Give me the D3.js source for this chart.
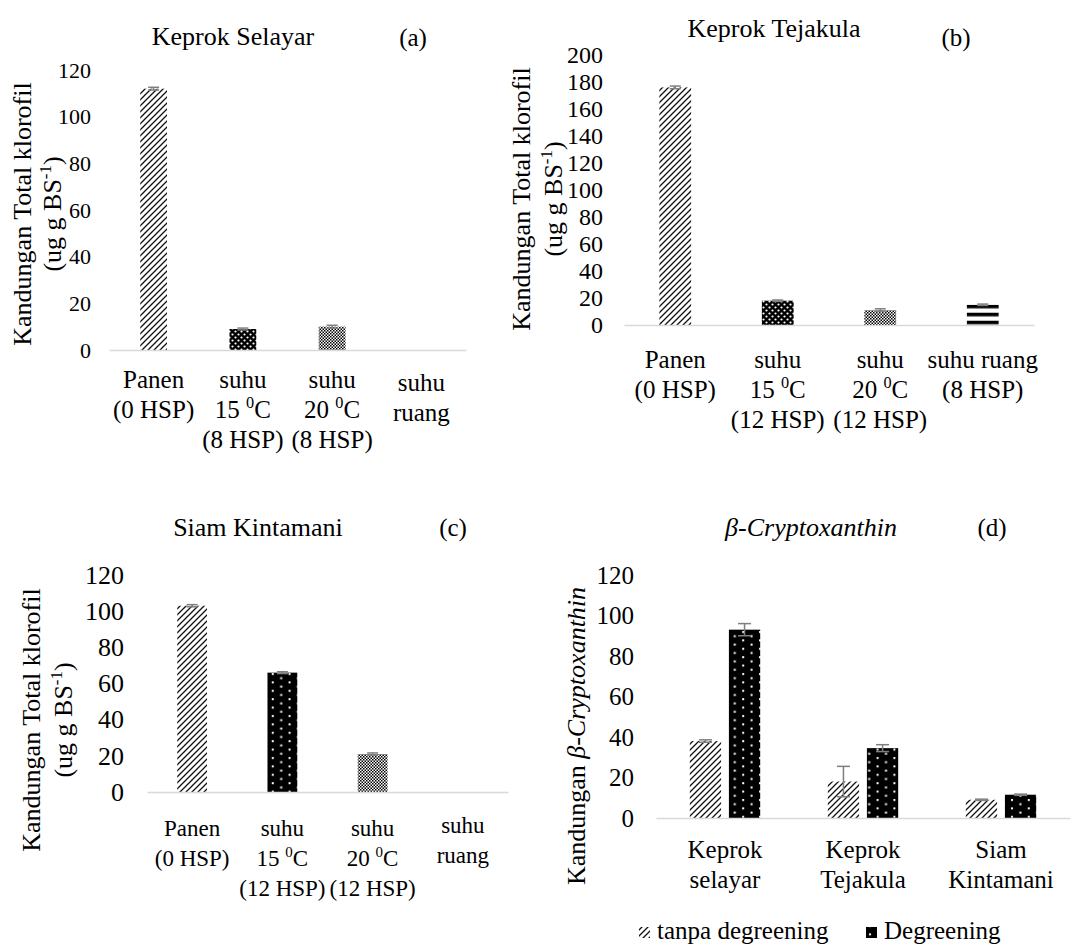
<!DOCTYPE html>
<html>
<head>
<meta charset="utf-8">
<script src="https://cdn.jsdelivr.net/npm/d3@7"></script>
<style>
  body { margin: 0; background: #fff; }
  svg { display: block; font-family: "Liberation Serif", "Times New Roman", "DejaVu Serif", serif; }
</style>
</head>
<body>
<svg id="chart" width="1088" height="946"></svg>
<script>
// ---- data ----
var treatmentsA = [["Panen", "(0 HSP)"], ["suhu", "15 {0}C", "(8 HSP)"], ["suhu", "20 {0}C", "(8 HSP)"], ["suhu", "ruang"]];
var klorofilA = [112, 9, 10, 0];
var errA = [0.6, 0.4, 0.6, 0];

var treatmentsB = [["Panen", "(0 HSP)"], ["suhu", "15 {0}C", "(12 HSP)"], ["suhu", "20 {0}C", "(12 HSP)"], ["suhu ruang", "(8 HSP)"]];
var klorofilB = [176, 18, 11, 15];
var errB = [1, 0.5, 1, 0.5];

var treatmentsC = [["Panen", "(0 HSP)"], ["suhu", "15 {0}C", "(12 HSP)"], ["suhu", "20 {0}C", "(12 HSP)"], ["suhu", "ruang"]];
var klorofilC = [103, 66, 21, 0];
var errC = [0.6, 0.5, 0.6, 0];

var varietasD = [["Keprok", "selayar"], ["Keprok", "Tejakula"], ["Siam", "Kintamani"]];
var seriesD = ["tanpa degreening", "Degreening"];
var tanpaD = [38, 18, 9];
var degreeningD = [93, 34.5, 11.5];
var errTanpaD = [0.6, 7.5, 0.3];
var errDegreeningD = [3, 1.7, 0.3];

var ticks120 = [0, 20, 40, 60, 80, 100, 120];
var ticks200 = [0, 20, 40, 60, 80, 100, 120, 140, 160, 180, 200];

var svg = d3.select("#chart");
var defs = svg.append("defs");

// ---- fill patterns (Excel style) ----
function pattern(id, w, h) {
  return defs.append("pattern").attr("id", id)
    .attr("patternUnits", "userSpaceOnUse")
    .attr("width", w).attr("height", h);
}
var diag = pattern("diag", 6, 6);
diag.append("rect").attr("width", 6).attr("height", 6).attr("fill", "#fff");
diag.append("path").attr("d", "M0,6 L6,0 M-1,1 L1,-1 M5,7 L7,5")
  .attr("stroke", "#111").attr("stroke-width", 1.3);

var dense = pattern("dotsDense", 6, 6);
dense.append("rect").attr("width", 6).attr("height", 6).attr("fill", "#000");
dense.append("circle").attr("cx", 1.5).attr("cy", 1.5).attr("r", 1.1).attr("fill", "#fff");
dense.append("circle").attr("cx", 4.5).attr("cy", 4.5).attr("r", 1.1).attr("fill", "#fff");

var sparse = pattern("dotsSparse", 16.8, 8.4);
sparse.append("rect").attr("width", 16.8).attr("height", 8.4).attr("fill", "#000");
sparse.append("rect").attr("x", 3).attr("y", 1).attr("width", 2).attr("height", 2).attr("fill", "#fff");
sparse.append("rect").attr("x", 11.4).attr("y", 5.2).attr("width", 2).attr("height", 2).attr("fill", "#fff");

var checker = pattern("checker", 3, 3);
checker.append("rect").attr("width", 3).attr("height", 3).attr("fill", "#fff");
checker.append("rect").attr("width", 1.5).attr("height", 1.5).attr("fill", "#000");
checker.append("rect").attr("x", 1.5).attr("y", 1.5).attr("width", 1.5).attr("height", 1.5).attr("fill", "#000");

var hlines = pattern("hlines", 8, 8);
hlines.append("rect").attr("width", 8).attr("height", 8).attr("fill", "#fff");
hlines.append("rect").attr("width", 8).attr("height", 3.6).attr("fill", "#000");

// text with {sup} parts
function richText(sel, str, size) {
  var shift = Math.round(size * 0.38);
  var up = false;
  str.split(/(\{[^}]*\})/).forEach(function(p) {
    if (!p) return;
    if (p[0] === "{") {
      sel.append("tspan").attr("dy", -shift).attr("font-size", size * 0.65).text(p.slice(1, -1));
      up = true;
    } else {
      sel.append("tspan").attr("dy", up ? shift : null).text(p);
      up = false;
    }
  });
}

function styleYAxis(s, size) {
  s.select(".domain").remove();
  s.attr("font-family", null).attr("font-size", size);
  s.selectAll("text").attr("fill", "#000");
}

function errorBars(g, xs, ys, vals, errs, cap) {
  vals.forEach(function(v, i) {
    if (!errs[i]) return;
    var cx = xs(i), y1 = ys(v + errs[i]), y2 = ys(Math.max(0, v - errs[i]));
    var e = g.append("g").attr("stroke", "#7f7f7f").attr("stroke-width", 1.5);
    e.append("line").attr("x1", cx).attr("x2", cx).attr("y1", y1).attr("y2", y2);
    e.append("line").attr("x1", cx - cap / 2).attr("x2", cx + cap / 2).attr("y1", y1).attr("y2", y1);
    e.append("line").attr("x1", cx - cap / 2).attr("x2", cx + cap / 2).attr("y1", y2).attr("y2", y2);
  });
}

function drawPanel(cfg) {
  var g = svg.append("g");
  var x = d3.scaleBand().domain(d3.range(cfg.values.length))
    .range([cfg.x0, cfg.x1]).paddingInner(cfg.pad).paddingOuter(cfg.pad / 2);
  var y = d3.scaleLinear().domain([0, cfg.max]).range([cfg.y0, cfg.yTop]);

  g.append("g").attr("transform", "translate(" + cfg.tickX + ",0)")
    .call(d3.axisLeft(y).tickValues(cfg.ticks).tickSize(0).tickPadding(0))
    .call(styleYAxis, cfg.tickFont);

  if (cfg.hlineBar != null) d3.select("#hlines").attr("y", y(cfg.values[cfg.hlineBar]));

  g.selectAll("rect.bar").data(cfg.values).enter().append("rect")
    .attr("class", "bar")
    .attr("x", function(d, i) { return x(i); })
    .attr("width", x.bandwidth())
    .attr("y", function(d) { return y(d); })
    .attr("height", function(d) { return y(0) - y(d); })
    .attr("fill", function(d, i) { return cfg.fills[i]; });

  errorBars(g, function(i) { return x(i) + x.bandwidth() / 2; }, y, cfg.values, cfg.errs, 11);

  g.append("g").attr("transform", "translate(0," + cfg.y0 + ")")
    .call(d3.axisBottom(x).tickSize(0).tickFormat(""))
    .call(function(s) { s.select(".domain").attr("stroke", "#d9d9d9").attr("stroke-width", 1.5); });

  cfg.labels.forEach(function(lines, i) {
    lines.forEach(function(line, j) {
      var t = g.append("text").attr("x", x(i) + x.bandwidth() / 2)
        .attr("y", cfg.labelY + (cfg.labelShift ? cfg.labelShift[i] : 0) + j * 30)
        .attr("text-anchor", "middle").attr("font-size", cfg.labelFont);
      richText(t, line, cfg.labelFont);
    });
  });

  g.append("text").attr("x", cfg.titleX).attr("y", cfg.titleY)
    .attr("text-anchor", "middle").attr("font-size", 26).text(cfg.title);
  g.append("text").attr("x", cfg.tagX).attr("y", cfg.tagY)
    .attr("text-anchor", "middle").attr("font-size", 25).text(cfg.tag);

  g.append("text").attr("transform", "translate(" + cfg.yt1X + "," + cfg.ytY + ") rotate(-90)")
    .attr("text-anchor", "middle").attr("dy", "0.35em").attr("font-size", 26)
    .text("Kandungan  Total klorofil");
  var yt2 = g.append("text").attr("transform", "translate(" + cfg.yt2X + "," + cfg.ytY + ") rotate(-90)")
    .attr("text-anchor", "middle").attr("dy", "0.35em").attr("font-size", 26);
  richText(yt2, "(ug g BS{-1})", 26);
}

drawPanel({
  values: klorofilA, errs: errA, labels: treatmentsA, ticks: ticks120, max: 120,
  x0: 109, x1: 466, pad: 0.7, y0: 350, yTop: 70, tickX: 91, tickFont: 22,
  fills: ["url(#diag)", "url(#dotsDense)", "url(#checker)", "url(#hlines)"],
  labelY: 388, labelShift: [0, 0, 0, 3], labelFont: 25,
  title: "Keprok Selayar", titleX: 233, titleY: 45, tag: "(a)", tagX: 413, tagY: 46,
  yt1X: 22, yt2X: 52, ytY: 214
});

drawPanel({
  values: klorofilB, errs: errB, labels: treatmentsB, ticks: ticks200, max: 200,
  x0: 624, x1: 1034, pad: 0.69, y0: 325, yTop: 55, tickX: 603, tickFont: 24,
  fills: ["url(#diag)", "url(#dotsDense)", "url(#checker)", "url(#hlines)"], hlineBar: 3,
  labelY: 368, labelFont: 25,
  title: "Keprok Tejakula", titleX: 774, titleY: 37, tag: "(b)", tagX: 956, tagY: 46,
  yt1X: 521, yt2X: 553, ytY: 199
});

drawPanel({
  values: klorofilC, errs: errC, labels: treatmentsC, ticks: ticks120, max: 120,
  x0: 147, x1: 508, pad: 0.67, y0: 792, yTop: 575, tickX: 124, tickFont: 26,
  fills: ["url(#diag)", "url(#dotsSparse)", "url(#checker)", "url(#hlines)"],
  labelY: 836, labelShift: [0, 0, 0, -3], labelFont: 23,
  title: "Siam Kintamani", titleX: 258, titleY: 536, tag: "(c)", tagX: 453, tagY: 536,
  yt1X: 31, yt2X: 63, ytY: 720
});

// ---- panel (d): grouped bars ----
(function() {
  var g = svg.append("g");
  var x0 = d3.scaleBand().domain(d3.range(varietasD.length)).range([656, 1070])
    .paddingInner(0.49).paddingOuter(0.245);
  var x1 = d3.scaleBand().domain(seriesD).range([0, x0.bandwidth()]).paddingInner(0.2);
  var y = d3.scaleLinear().domain([0, 120]).range([818, 575]);
  var fills = { "tanpa degreening": "url(#diag)", "Degreening": "url(#dotsSparse)" };
  var vals = { "tanpa degreening": tanpaD, "Degreening": degreeningD };
  var errs = { "tanpa degreening": errTanpaD, "Degreening": errDegreeningD };

  g.append("g").attr("transform", "translate(634,0)")
    .call(d3.axisLeft(y).tickValues(ticks120).tickSize(0).tickPadding(0))
    .call(styleYAxis, 25);

  seriesD.forEach(function(s) {
    g.selectAll(null).data(vals[s]).enter().append("rect")
      .attr("x", function(d, i) { return x0(i) + x1(s); })
      .attr("width", x1.bandwidth())
      .attr("y", function(d) { return y(d); })
      .attr("height", function(d) { return y(0) - y(d); })
      .attr("fill", fills[s]);
    errorBars(g, function(i) { return x0(i) + x1(s) + x1.bandwidth() / 2; }, y, vals[s], errs[s], 13);
  });

  g.append("g").attr("transform", "translate(0,818)")
    .call(d3.axisBottom(x0).tickSize(0).tickFormat(""))
    .call(function(s) { s.select(".domain").attr("stroke", "#d9d9d9").attr("stroke-width", 1.5); });

  varietasD.forEach(function(lines, i) {
    lines.forEach(function(line, j) {
      g.append("text").attr("x", x0(i) + x0.bandwidth() / 2).attr("y", 858 + j * 30)
        .attr("text-anchor", "middle").attr("font-size", 25).text(line);
    });
  });

  g.append("text").attr("x", 811).attr("y", 536).attr("text-anchor", "middle")
    .attr("font-size", 26).attr("font-style", "italic").text("\u03b2-Cryptoxanthin");
  g.append("text").attr("x", 992).attr("y", 536).attr("text-anchor", "middle")
    .attr("font-size", 25).text("(d)");

  var yt = g.append("text").attr("transform", "translate(576,736) rotate(-90)")
    .attr("text-anchor", "middle").attr("dy", "0.35em").attr("font-size", 26);
  yt.append("tspan").text("Kandungan ");
  yt.append("tspan").attr("font-style", "italic").text("\u03b2-Cryptoxanthin");

  // legend
  var legX = [639, 866];
  var leg = g.selectAll("g.leg").data(seriesD).enter().append("g").attr("class", "leg")
    .attr("transform", function(d, i) { return "translate(" + legX[i] + ",0)"; });
  leg.append("rect").attr("y", 927).attr("width", 11).attr("height", 11)
    .attr("fill", function(d) { return fills[d]; });
  leg.append("text").attr("x", 18).attr("y", 939).attr("font-size", 25).text(function(d) { return d; });
})();
</script>
</body>
</html>
